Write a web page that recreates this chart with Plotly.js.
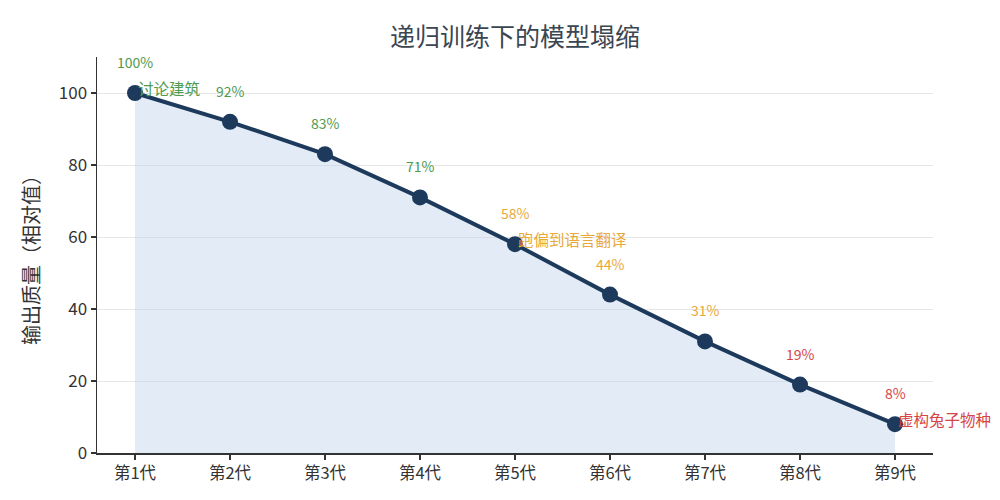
<!DOCTYPE html>
<html>
<head>
<meta charset="utf-8">
<script src="https://cdn.plot.ly/plotly-3.0.1.min.js"></script>
<style>html,body{margin:0;padding:0;background:#fff}#chart{width:1000px;height:500px}</style>
</head>
<body>
<div id="chart"></div>
<script>
const generations = ["第1代","第2代","第3代","第4代","第5代","第6代","第7代","第8代","第9代"];
const quality = [100, 92, 83, 71, 58, 44, 31, 19, 8];
const pctColors = ["#4f9a4f","#4f9a4f","#4f9a4f","#4f9a4f","#e8a93a","#e8a93a","#e8a93a","#d64545","#d64545"];
const noteIndex = [0, 4, 8];
const noteTexts = ["讨论建筑", "跑偏到语言翻译", "虚构兔子物种"];

const font = '"Noto Sans CJK SC", "Noto Sans", sans-serif';
const annotations = [];
quality.forEach((v, i) => {
  annotations.push({
    x: generations[i], y: v, xref: 'x', yref: 'y',
    text: v + '%', showarrow: false, yshift: 31,
    font: {family: font, size: 14, color: pctColors[i]}
  });
});
noteIndex.forEach((idx, k) => {
  annotations.push({
    x: generations[idx], y: quality[idx], xref: 'x', yref: 'y',
    text: noteTexts[k], showarrow: false, xanchor: 'left', xshift: 1, yshift: 5,
    font: {family: font, size: 15.5, color: pctColors[idx]}
  });
});

const traces = [{
  x: generations, y: quality, type: 'scatter', mode: 'lines+markers',
  fill: 'tozeroy', fillcolor: 'rgba(194,213,236,0.45)',
  line: {color: '#1d3a5c', width: 4},
  marker: {color: '#1d3a5c', size: 16},
  hoverinfo: 'skip'
}];

const layout = {
  width: 1000, height: 500,
  margin: {l: 97, r: 67, t: 57, b: 47},
  paper_bgcolor: '#fff', plot_bgcolor: '#fff',
  showlegend: false,
  title: {text: '递归训练下的模型塌缩', x: 0.515, xanchor: 'center', y: 0.926, yanchor: 'middle',
    font: {family: font, size: 25, color: '#3a4652'}},
  xaxis: {
    type: 'category', range: [-0.4, 8.4], showgrid: false, zeroline: false,
    showline: true, linecolor: '#333', linewidth: 1.5,
    ticks: 'outside', ticklen: 5, tickcolor: '#333', tickwidth: 1.5,
    tickfont: {family: font, size: 16.5, color: '#333'}
  },
  yaxis: {
    range: [0, 110], tickvals: [0, 20, 40, 60, 80, 100], showgrid: true, gridcolor: '#e6e6e6',
    zeroline: false, showline: true, linecolor: '#333', linewidth: 1.5,
    ticks: 'outside', ticklen: 5, tickcolor: '#333', tickwidth: 1.5,
    tickfont: {family: font, size: 17, color: '#333'},
    title: {text: '输出质量（相对值）', standoff: 14, font: {family: font, size: 20, color: '#333'}}
  },
  annotations: annotations
};

Plotly.newPlot('chart', traces, layout, {displayModeBar: false, staticPlot: true});
</script>
</body>
</html>
